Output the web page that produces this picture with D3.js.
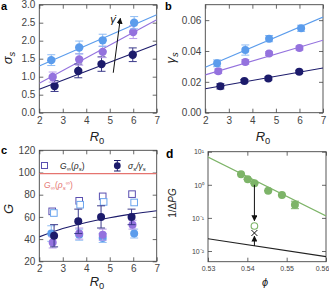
<!DOCTYPE html>
<html>
<head>
<meta charset="utf-8">
<script src="https://cdn.jsdelivr.net/npm/d3@7/dist/d3.min.js"></script>
<style>
  body { margin: 0; background: #fff; }
  svg { display: block; font-family: "Liberation Sans", Arial, sans-serif; }
  .tick text { fill: #444; }
</style>
</head>
<body>
<div id="chart"></div>
<script>
// series order: light blue (high rate), purple, navy (low rate)
const seriesColours = ["#5b9cec", "#9472de", "#1c1b6b"];
const errColours = ["#8fbcf3", "#b99ceb", "#3b3a8a"];

// panel a : sigma_s vs R0
const sigmaR0 = [[2.51, 3.70, 4.70, 6.04], [2.57, 3.70, 4.70, 6.00], [2.65, 3.66, 4.65, 5.98]];
const sigmaVal = [[1.46, 1.81, 2.01, 2.50], [0.99, 1.48, 1.69, 2.24], [0.74, 1.16, 1.35, 1.61]];
const sigmaErr = [[0.15, 0.18, 0.17, 0.17], [0.14, 0.16, 0.16, 0.18], [0.15, 0.19, 0.20, 0.19]];
const fitR0 = [2, 7];
const sigmaFit = [[1.30, 2.72], [0.82, 2.58], [0.65, 1.90]];
const rateArrow = [[5.15, 1.11], [5.45, 2.62]];

// panel b : gamma_s vs R0
const gammaR0 = [[2.50, 3.70, 4.71, 6.07], [2.55, 3.70, 4.71, 6.00], [2.64, 3.66, 4.68, 5.99]];
const gammaVal = [[0.0320, 0.0406, 0.0480, 0.0547], [0.0269, 0.0329, 0.0383, 0.0419], [0.0171, 0.0205, 0.0222, 0.0265]];
const gammaErr = [[0.0022, 0.0033, 0.0020, 0.0020], [0.0015, 0.0015, 0.0012, 0.0013], [0.0017, 0.0010, 0.0010, 0.0010]];
const gammaFit = [[0.0295, 0.0620], [0.0245, 0.0470], [0.0155, 0.0290]];

// panel c : G vs R0
const squareR0 = [[2.55, 3.70, 4.70, 5.95], [2.62, 3.74, 4.74, 6.04]];
const squareG = [[65, 74.5, 78.5, 80.5], [63.5, 71, 73.5, 73]];
const squareColours = ["#5a4fb0", "#6aa5ee"];
const ratioR0 = [[2.51, 3.70, 4.70, 6.04], [2.57, 3.70, 4.70, 5.97], [2.63, 3.66, 4.63, 5.93]];
const ratioG = [[45, 44, 41, 45], [37, 45, 44, 53], [43, 56, 60, 60]];
const ratioErr = [[7, 5, 4, 4], [5, 5, 5, 4], [10, 11, 10, 7]];
const ratioFitR0 = [2, 3, 4, 5, 6, 7];
const ratioFitG = [42, 49.5, 55, 59.3, 62.7, 65.5];
const gInfinity = 99;

// panel d : 1/dPG vs phi
const phiVal = [0.5384, 0.5401, 0.5418, 0.5453, 0.5488, 0.5521];
const invVal = [2.10, 1.47, 1.12, 0.66, 0.49, 0.25];
const invLo = [2.10, 1.47, 1.12, 0.66, 0.49, 0.19];
const invHi = [2.10, 1.47, 1.12, 0.66, 0.49, 0.32];
const greenFit = [[0.53, 6.9], [0.56, 0.115]];
const blackLine = [[0.53, 0.0235], [0.56, 0.0068]];
const openPoint = [0.5418, 0.057];
const crossPoint = [0.5418, 0.035];
const downArrow = [[0.5418, 1.0], [0.5418, 0.082]];
const upArrow = [[0.5418, 0.0142], [0.5418, 0.028]];
const logTicks = [0.01, 0.1, 1, 10];
const logTickLabels = ["10\u207B\u00B2", "10\u207B\u00B9", "10\u2070", "10\u00B9"];

const svg = d3.select("#chart").append("svg")
    .attr("width", 329)
    .attr("height", 291);

const defs = svg.append("defs");
defs.append("marker")
    .attr("id", "head")
    .attr("viewBox", "0 0 10 10")
    .attr("refX", 9).attr("refY", 5)
    .attr("markerWidth", 6).attr("markerHeight", 6)
    .attr("markerUnits", "userSpaceOnUse")
    .attr("orient", "auto")
    .append("path")
        .attr("d", "M0,0 L10,5 L0,10 z")
        .attr("fill", "#111");

function makePanel(box, xscale, yscale, opts) {
    const g = svg.append("g");
    const fs = opts.fontSize || 10;

    const xAxis = d3.axisBottom(xscale).tickSizeInner(-4).tickSizeOuter(0).tickPadding(4);
    const yAxis = d3.axisLeft(yscale).tickSizeInner(-4).tickSizeOuter(0).tickPadding(4);
    if (opts.xTicks) xAxis.tickValues(opts.xTicks);
    if (opts.xFormat) xAxis.tickFormat(opts.xFormat);
    if (opts.yTicks) yAxis.tickValues(opts.yTicks);
    if (opts.yFormat) yAxis.tickFormat(opts.yFormat);

    const gx = g.append("g")
        .attr("transform", `translate(0,${box.bottom})`)
        .call(xAxis);
    g.append("g")
        .attr("transform", `translate(${box.left},0)`)
        .call(yAxis);
    // mirrored ticks on top and right
    g.append("g")
        .attr("transform", `translate(0,${box.top})`)
        .call(d3.axisTop(xscale).tickValues(xAxis.tickValues()).tickSizeInner(-4).tickSizeOuter(0).tickFormat(""));
    g.append("g")
        .attr("transform", `translate(${box.right},0)`)
        .call(d3.axisRight(yscale).tickValues(yAxis.tickValues()).tickSizeInner(-4).tickSizeOuter(0).tickFormat(""));

    g.selectAll(".domain").remove();
    g.selectAll(".tick line").attr("stroke", "#444").attr("stroke-width", 0.8);
    g.selectAll(".tick text").attr("font-size", fs).attr("fill", "#444");
    if (opts.lastTickShift) {
        gx.selectAll(".tick text").filter((d, i, n) => i === n.length - 1)
            .attr("dx", opts.lastTickShift);
    }

    g.append("rect")
        .attr("x", box.left).attr("y", box.top)
        .attr("width", box.right - box.left)
        .attr("height", box.bottom - box.top)
        .attr("fill", "none")
        .attr("stroke", "#444")
        .attr("stroke-width", 0.9);

    const plot = svg.append("g");
    const clipId = "clip-" + opts.name;
    defs.append("clipPath").attr("id", clipId)
        .append("rect")
            .attr("x", box.left).attr("y", box.top)
            .attr("width", box.right - box.left)
            .attr("height", box.bottom - box.top);
    plot.attr("clip-path", `url(#${clipId})`);

    svg.append("text")
        .attr("x", opts.labelPos[0]).attr("y", opts.labelPos[1])
        .attr("font-size", opts.labelSize || 11).attr("font-weight", "bold")
        .text(opts.name);

    return plot;
}

function axisTitle(x, y, main, sub, rotate, size) {
    const t = svg.append("text")
        .attr("x", x).attr("y", y)
        .attr("text-anchor", "middle")
        .attr("font-size", size || 13)
        .attr("font-style", "italic")
        .attr("fill", "#222");
    if (rotate) t.attr("transform", `rotate(-90,${x},${y})`);
    t.append("tspan").text(main);
    if (sub !== null) {
        t.append("tspan").attr("dy", 3).attr("font-size", (size || 13) * 0.72)
            .attr("font-style", sub === "0" ? "normal" : "italic").text(sub);
    }
    return t;
}

function drawErrorPoints(plot, xs, ys, lo, hi, xscale, yscale, colour, errColour, r) {
    xs.forEach((xv, i) => {
        const cx = xscale(xv);
        const y0 = yscale(lo[i]), y1 = yscale(hi[i]);
        plot.append("line").attr("x1", cx).attr("x2", cx).attr("y1", y0).attr("y2", y1)
            .attr("stroke", errColour).attr("stroke-width", 1);
        [y0, y1].forEach(yy => {
            plot.append("line").attr("x1", cx - 4).attr("x2", cx + 4).attr("y1", yy).attr("y2", yy)
                .attr("stroke", errColour).attr("stroke-width", 1);
        });
    });
    plot.selectAll(null).data(xs).enter().append("circle")
        .attr("cx", d => xscale(d))
        .attr("cy", (d, i) => yscale(ys[i]))
        .attr("r", r)
        .attr("fill", colour);
}

const line = d3.line();

// ---------- panel a ----------
const boxA = {left: 39.3, right: 156.7, top: 4.7, bottom: 112.7};
const xA = d3.scaleLinear().domain([2, 7]).range([boxA.left, boxA.right]);
const yA = d3.scaleLinear().domain([0, 3]).range([boxA.bottom, boxA.top]);
const plotA = makePanel(boxA, xA, yA, {
    name: "a", labelPos: [1, 10],
    xTicks: [2, 3, 4, 5, 6, 7], xFormat: d3.format("d"),
    yTicks: [0, 0.5, 1, 1.5, 2, 2.5, 3], yFormat: d3.format(".1f")
});
sigmaFit.forEach((f, s) => {
    plotA.append("path")
        .attr("d", line(fitR0.map((r, i) => [xA(r), yA(f[i])])))
        .attr("stroke", seriesColours[s]).attr("stroke-width", 1.1).attr("fill", "none");
});
[2, 1, 0].forEach(s => {
    drawErrorPoints(plotA, sigmaR0[s], sigmaVal[s],
        sigmaVal[s].map((v, i) => v - sigmaErr[s][i]), sigmaVal[s].map((v, i) => v + sigmaErr[s][i]),
        xA, yA, seriesColours[s], errColours[s], 4.2);
});
plotA.append("path")
    .attr("d", line(rateArrow.map(d => [xA(d[0]), yA(d[1])])))
    .attr("stroke", "#111").attr("stroke-width", 1).attr("marker-end", "url(#head)");
svg.append("text")
    .attr("x", xA(5.02)).attr("y", yA(2.5))
    .attr("font-size", 11).attr("font-style", "italic").attr("fill", "#111")
    .text("\u03B3\u0307");
axisTitle(97, 141, "R", "0", false);
axisTitle(12, 58, "\u03C3", "s", true);

// ---------- panel b ----------
const boxB = {left: 205.3, right: 323, top: 4.7, bottom: 112.7};
const xB = d3.scaleLinear().domain([2, 7]).range([boxB.left, boxB.right]);
const yB = d3.scaleLinear().domain([0, 0.07]).range([boxB.bottom, boxB.top]);
const plotB = makePanel(boxB, xB, yB, {
    name: "b", labelPos: [165, 10],
    xTicks: [2, 3, 4, 5, 6, 7], xFormat: d3.format("d"),
    yTicks: [0, 0.02, 0.04, 0.06], yFormat: d3.format(".2f")
});
gammaFit.forEach((f, s) => {
    plotB.append("path")
        .attr("d", line(fitR0.map((r, i) => [xB(r), yB(f[i])])))
        .attr("stroke", seriesColours[s]).attr("stroke-width", 1.1).attr("fill", "none");
});
[2, 1, 0].forEach(s => {
    drawErrorPoints(plotB, gammaR0[s], gammaVal[s],
        gammaVal[s].map((v, i) => v - gammaErr[s][i]), gammaVal[s].map((v, i) => v + gammaErr[s][i]),
        xB, yB, seriesColours[s], errColours[s], 4);
});
axisTitle(263, 141, "R", "0", false);
axisTitle(175, 58, "\u03B3", "s", true);

// ---------- panel c ----------
const boxC = {left: 39.3, right: 156.7, top: 150.3, bottom: 261.3};
const xC = d3.scaleLinear().domain([2, 7]).range([boxC.left, boxC.right]);
const yC = d3.scaleLinear().domain([20, 120]).range([boxC.bottom, boxC.top]);
const plotC = makePanel(boxC, xC, yC, {
    name: "c", labelPos: [1, 154],
    xTicks: [2, 3, 4, 5, 6, 7], xFormat: d3.format("d"),
    yTicks: [20, 40, 60, 80, 100, 120]
});
plotC.append("line")
    .attr("x1", boxC.left).attr("x2", boxC.right)
    .attr("y1", yC(gInfinity)).attr("y2", yC(gInfinity))
    .attr("stroke", "#e5746f").attr("stroke-width", 1.2);
squareR0.forEach((xs, s) => {
    plotC.selectAll(null).data(xs).enter().append("rect")
        .attr("x", d => xC(d) - 3.3)
        .attr("y", (d, i) => yC(squareG[s][i]) - 3.3)
        .attr("width", 6.6).attr("height", 6.6)
        .attr("fill", "#fff").attr("stroke", squareColours[s]).attr("stroke-width", 1);
});
plotC.append("path")
    .attr("d", d3.line().curve(d3.curveMonotoneX)(ratioFitR0.map((r, i) => [xC(r), yC(ratioFitG[i])])))
    .attr("stroke", seriesColours[2]).attr("stroke-width", 1.1).attr("fill", "none");
[0, 1, 2].forEach(s => {
    drawErrorPoints(plotC, ratioR0[s], ratioG[s],
        ratioG[s].map((v, i) => v - ratioErr[s][i]), ratioG[s].map((v, i) => v + ratioErr[s][i]),
        xC, yC, seriesColours[s], errColours[s], 4);
});
// legend
svg.append("rect").attr("x", 41.5).attr("y", 162.5).attr("width", 6).attr("height", 6)
    .attr("fill", "#fff").attr("stroke", squareColours[0]).attr("stroke-width", 1);
const lg1 = svg.append("text").attr("x", 60).attr("y", 169).attr("font-size", 8.5).attr("fill", "#222");
lg1.append("tspan").attr("font-style", "italic").text("G");
lg1.append("tspan").attr("dy", 2).attr("font-size", 6).text("\u221E");
lg1.append("tspan").attr("dy", -2).text("(");
lg1.append("tspan").attr("font-style", "italic").text("\u03C1");
lg1.append("tspan").attr("dy", 2).attr("font-size", 6).attr("font-style", "italic").text("s");
lg1.append("tspan").attr("dy", -2).text(")");
svg.append("line").attr("x1", 117.3).attr("x2", 117.3).attr("y1", 160.5).attr("y2", 171)
    .attr("stroke", seriesColours[2]).attr("stroke-width", 1);
[160.5, 171].forEach(yy => svg.append("line").attr("x1", 114).attr("x2", 120.6).attr("y1", yy).attr("y2", yy)
    .attr("stroke", seriesColours[2]).attr("stroke-width", 1));
svg.append("circle").attr("cx", 117.3).attr("cy", 165.7).attr("r", 3.4).attr("fill", seriesColours[2]);
const lg2 = svg.append("text").attr("x", 128).attr("y", 169).attr("font-size", 8.5).attr("fill", "#222")
    .attr("font-style", "italic");
lg2.append("tspan").text("\u03C3");
lg2.append("tspan").attr("dy", 2).attr("font-size", 6).text("s");
lg2.append("tspan").attr("dy", -2).text("/\u03B3");
lg2.append("tspan").attr("dy", 2).attr("font-size", 6).text("s");
const lg3 = svg.append("text").attr("x", 44).attr("y", 188).attr("font-size", 8.5).attr("fill", "#e5746f");
lg3.append("tspan").attr("font-style", "italic").text("G");
lg3.append("tspan").attr("dy", 2).attr("font-size", 6).text("\u221E");
lg3.append("tspan").attr("dy", -2).text("(");
lg3.append("tspan").attr("font-style", "italic").text("\u03C1");
lg3.append("tspan").attr("dy", 2).attr("font-size", 6).attr("font-style", "italic").text("s");
lg3.append("tspan").attr("dy", -5).attr("font-size", 6).text("\u221E");
lg3.append("tspan").attr("dy", 3).text(")");
axisTitle(97, 286, "R", "0", false);
axisTitle(13, 209, "G", null, true);

// ---------- panel d ----------
const boxD = {left: 208, right: 326, top: 151.7, bottom: 261.7};
const xD = d3.scaleLinear().domain([0.53, 0.56]).range([boxD.left, boxD.right]);
const yD = d3.scaleLog().domain([Math.pow(10, -2.323), 10]).range([boxD.bottom, boxD.top]);
const plotD = makePanel(boxD, xD, yD, {
    name: "d", labelPos: [166, 158], fontSize: 7, labelSize: 12, lastTickShift: -4,
    xTicks: [0.53, 0.54, 0.55, 0.56], xFormat: d3.format(".2f"),
    yTicks: logTicks, yFormat: (d, i) => logTickLabels[i]
});
const greenC = "#7db468";
plotD.append("path")
    .attr("d", line(greenFit.map(d => [xD(d[0]), yD(d[1])])))
    .attr("stroke", greenC).attr("stroke-width", 1.1).attr("fill", "none");
plotD.append("path")
    .attr("d", line(blackLine.map(d => [xD(d[0]), yD(d[1])])))
    .attr("stroke", "#222").attr("stroke-width", 1.2).attr("fill", "none");
drawErrorPoints(plotD, phiVal, invVal, invLo, invHi, xD, yD, greenC, greenC, 4);
plotD.append("path")
    .attr("d", line(downArrow.map(d => [xD(d[0]), yD(d[1])])))
    .attr("stroke", "#111").attr("stroke-width", 1).attr("marker-end", "url(#head)");
plotD.append("path")
    .attr("d", line(upArrow.map(d => [xD(d[0]), yD(d[1])])))
    .attr("stroke", "#111").attr("stroke-width", 1).attr("marker-end", "url(#head)");
plotD.append("circle")
    .attr("cx", xD(openPoint[0])).attr("cy", yD(openPoint[1])).attr("r", 3.3)
    .attr("fill", "#fff").attr("stroke", greenC).attr("stroke-width", 1.1);
const cx = xD(crossPoint[0]), cy = yD(crossPoint[1]);
plotD.append("path")
    .attr("d", `M${cx - 3},${cy - 3}L${cx + 3},${cy + 3}M${cx - 3},${cy + 3}L${cx + 3},${cy - 3}`)
    .attr("stroke", "#111").attr("stroke-width", 1);
svg.append("text")
    .attr("x", 265).attr("y", 286).attr("text-anchor", "middle")
    .attr("font-size", 11).attr("font-style", "italic").attr("fill", "#222")
    .text("\u03D5");
const yl = svg.append("text")
    .attr("x", 176).attr("y", 203).attr("text-anchor", "middle")
    .attr("font-size", 10).attr("fill", "#222")
    .attr("transform", "rotate(-90,176,203)");
yl.append("tspan").text("1/\u0394");
yl.append("tspan").attr("font-style", "italic").text("PG");
</script>
</body>
</html>
